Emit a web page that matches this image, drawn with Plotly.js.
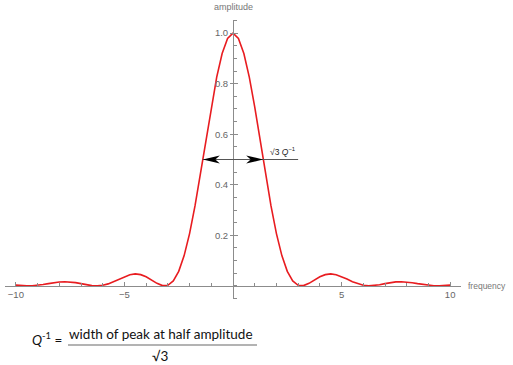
<!DOCTYPE html>
<html>
<head>
<meta charset="utf-8">
<script src="https://cdn.plot.ly/plotly-3.0.1.min.js"></script>
<style>
html,body{margin:0;padding:0;background:#fff;}
#chart{width:513px;height:365px;}
</style>
</head>
<body>
<div id="chart"></div>
<script>
// Values
var frequency = [-10,-9.75,-9.5,-9.25,-9,-8.75,-8.5,-8.25,-8,-7.75,-7.5,-7.25,-7,-6.75,-6.5,-6.25,-6,-5.75,-5.5,-5.25,-5,-4.75,-4.5,-4.25,-4,-3.75,-3.5,-3.25,-3,-2.75,-2.5,-2.25,-2,-1.75,-1.5,-1.25,-1,-0.75,-0.5,-0.25,0,0.25,0.5,0.75,1,1.25,1.5,1.75,2,2.25,2.5,2.75,3,3.25,3.5,3.75,4,4.25,4.5,4.75,5,5.25,5.5,5.75,6,6.25,6.5,6.75,7,7.25,7.5,7.75,8,8.25,8.5,8.75,9,9.25,9.5,9.75,10];
var amplitude = [0.0030,0.0011,0.0001,0.0004,0.0021,0.0051,0.0088,0.0125,0.0153,0.0165,0.0156,0.0129,0.0088,0.0044,0.0011,0.0000,0.0022,0.0078,0.0165,0.0268,0.0368,0.0443,0.0472,0.0444,0.0358,0.0232,0.0100,0.0011,0.0022,0.0193,0.0573,0.1196,0.2067,0.3162,0.4422,0.5764,0.7081,0.8261,0.9194,0.9793,1.0,0.9793,0.9194,0.8261,0.7081,0.5764,0.4422,0.3162,0.2067,0.1196,0.0573,0.0193,0.0022,0.0011,0.0100,0.0232,0.0358,0.0444,0.0472,0.0443,0.0368,0.0268,0.0165,0.0078,0.0022,0.0000,0.0011,0.0044,0.0088,0.0129,0.0156,0.0165,0.0153,0.0125,0.0088,0.0051,0.0021,0.0004,0.0001,0.0011,0.0030];
var xTickVals = [-10,-5,5,10];
var yTickVals = [0.2,0.4,0.6,0.8,1.0];
var yTickText = ["0.2","0.4","0.6","0.8","1.0"];
var halfAmplitude = 0.5;
var halfWidth = 1.39;      // where the curve crosses half amplitude
var markerLineEnd = 3.0;   // right end of the annotation line
var xLabel = "frequency";
var yLabel = "amplitude";
var markerLabel = "√3 <i>Q</i><sup>−1</sup>";
var formulaLeft = "<i>Q</i><sup>-1</sup> =";
var formulaNum = "width of peak at half amplitude";
var formulaDen = "√3";

var xRange = [-10.5, 10.5];
var yRange = [-0.052, 1.052];
var axisColor = "#8c8c8c";
var labelColor = "#666666";

var W = 513, H = 365;
var M = {l:5, r:52, t:20, b:66};
var pw = W - M.l - M.r, ph = H - M.t - M.b;
function px2paperX(px){ return (px - M.l) / pw; }
function py2paperY(py){ return (H - M.b - py) / ph; }

var curve = {
  x: frequency, y: amplitude, type: "scatter", mode: "lines",
  line: {color: "rgb(232,28,32)", width: 1.6},
  hoverinfo: "skip", cliponaxis: false
};
var dummy = {x: [], y: [], yaxis: "y2", type: "scatter", hoverinfo: "skip", showlegend: false};

var tickFont = {family: "Liberation Sans, Arial, sans-serif", size: 9.5, color: labelColor};
var formulaFont = {family: "Lato, sans-serif", size: 13.5, color: "#111"};

var layout = {
  width: W, height: H,
  margin: M,
  paper_bgcolor: "#fff", plot_bgcolor: "rgba(0,0,0,0)",
  showlegend: false,
  xaxis: {
    range: xRange, anchor: "free",
    position: (0 - yRange[0]) / (yRange[1] - yRange[0]),
    showgrid: false, zeroline: false,
    showline: true, linecolor: axisColor, linewidth: 1,
    tickmode: "array", tickvals: xTickVals,
    ticks: "inside", ticklen: 4, tickwidth: 1, tickcolor: axisColor,
    minor: {tickmode: "linear", tick0: 0, dtick: 1, ticks: "inside", ticklen: 2.5, tickcolor: axisColor, tickwidth: 1},
    tickfont: tickFont, fixedrange: true
  },
  yaxis: {
    range: yRange, anchor: "free",
    position: (0 - xRange[0]) / (xRange[1] - xRange[0]),
    showgrid: false, zeroline: false,
    showline: true, linecolor: axisColor, linewidth: 1,
    tickmode: "array", tickvals: yTickVals, ticktext: yTickText,
    ticks: "outside", ticklen: 3, tickwidth: 1, tickcolor: axisColor,
    minor: {tickmode: "linear", tick0: 0, dtick: 0.05, ticks: "inside", ticklen: 3, tickcolor: axisColor, tickwidth: 1},
    tickfont: tickFont, fixedrange: true
  },
  yaxis2: {
    range: yRange, overlaying: "y", anchor: "free",
    position: (0 - xRange[0]) / (xRange[1] - xRange[0]),
    showgrid: false, zeroline: false, showline: false,
    tickmode: "array", tickvals: yTickVals, showticklabels: false,
    ticks: "inside", ticklen: 4, tickwidth: 1, tickcolor: axisColor, fixedrange: true
  },
  shapes: [
    {type: "line", xref: "x", yref: "y", x0: -halfWidth, x1: markerLineEnd, y0: halfAmplitude, y1: halfAmplitude,
     line: {color: "#555555", width: 1}},
    {type: "path", xref: "x", yref: "y", xsizemode: "pixel", ysizemode: "pixel",
     xanchor: -halfWidth, yanchor: halfAmplitude,
     path: "M0,0L17,4L12.5,0L17,-4Z", fillcolor: "#000", line: {width: 0}},
    {type: "path", xref: "x", yref: "y", xsizemode: "pixel", ysizemode: "pixel",
     xanchor: halfWidth, yanchor: halfAmplitude,
     path: "M0,0L-17,4L-12.5,0L-17,-4Z", fillcolor: "#000", line: {width: 0}},
    {type: "line", xref: "paper", yref: "paper",
     x0: px2paperX(68), x1: px2paperX(257), y0: py2paperY(345), y1: py2paperY(345),
     line: {color: "#9a9a9a", width: 1.5}}
  ],
  annotations: [
    {text: yLabel, xref: "x", yref: "paper", x: 0, y: py2paperY(7), xanchor: "center", yanchor: "middle",
     showarrow: false, font: {family: "Liberation Sans, Arial, sans-serif", size: 9, color: "#777"}},
    {text: xLabel, xref: "paper", yref: "y", x: px2paperX(466), y: 0, xanchor: "left", yanchor: "middle",
     showarrow: false, font: {family: "Liberation Sans, Arial, sans-serif", size: 8.5, color: "#777"}},
    {text: markerLabel, xref: "x", yref: "y", x: markerLineEnd, y: halfAmplitude, xanchor: "right", yanchor: "bottom",
     yshift: 1, showarrow: false, font: {family: "Liberation Sans, Arial, sans-serif", size: 8.5, color: "#222"}},
    {text: formulaLeft, xref: "paper", yref: "paper", x: px2paperX(64), y: py2paperY(339), xanchor: "right", yanchor: "middle",
     showarrow: false, font: formulaFont},
    {text: formulaNum, xref: "paper", yref: "paper", x: px2paperX(161), y: py2paperY(334), xanchor: "center", yanchor: "middle",
     showarrow: false, font: formulaFont},
    {text: formulaDen, xref: "paper", yref: "paper", x: px2paperX(160), y: py2paperY(356), xanchor: "center", yanchor: "middle",
     showarrow: false, font: formulaFont}
  ]
};

Plotly.newPlot("chart", [curve, dummy], layout, {displayModeBar: false, staticPlot: true});
</script>
</body>
</html>
